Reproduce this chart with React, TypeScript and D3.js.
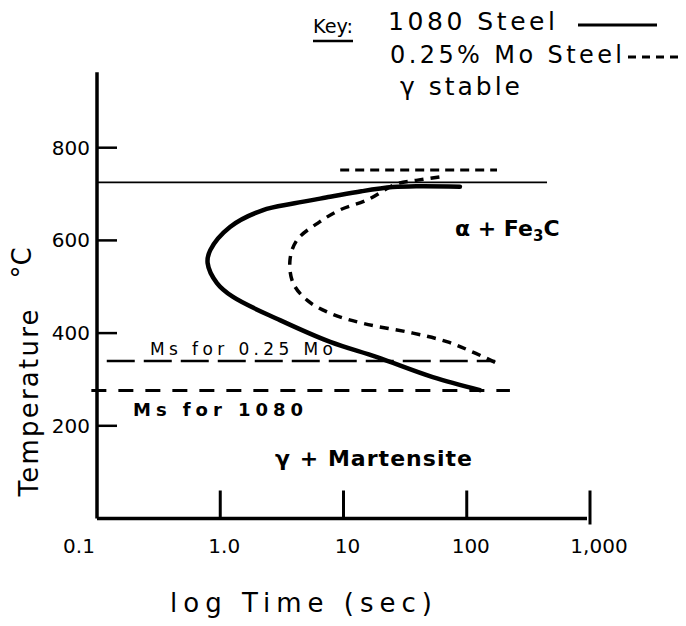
import React from 'react';
import * as d3 from 'd3';

// TTT curves: [time (s), temperature (°C)]
const steel1080: [number, number][] = [
  [88, 716], [40, 717], [25, 715], [14, 706], [7.8, 694], [4, 680], [2.2, 665],
  [1.2, 629], [0.83, 579], [0.79, 551], [0.94, 508], [1.27, 478], [3.05, 428],
  [7.8, 381], [18.7, 348], [53, 305], [128, 277],
];
const steelMo: [number, number][] = [
  [60, 737], [40, 730], [27, 722], [15.5, 687], [9.4, 666], [6.4, 640], [4.2, 601],
  [3.68, 558], [3.9, 508], [5.06, 471], [7.77, 443], [14.4, 421], [36.6, 400],
  [70, 381], [110, 360], [176, 335],
];

const eutectoid = { temp: 725, from: 0.1, to: 448 };
const gammaStable = { temp: 752, from: 9.4, to: 176 };
const msMo = { temp: 340, from: 0.12, to: 170 };
const ms1080 = { temp: 276, from: 0.09, to: 224 };

const xTicks = [0.1, 1, 10, 100, 1000];
const xTickLabels = ['0.1', '1.0', '10', '100', '1,000'];
const yTicks = [800, 600, 400, 200];

const W = 686;
const H = 626;
const font = "'DejaVu Sans', sans-serif";

export default function App() {
  const x = d3.scaleLog().domain([0.1, 1000]).range([97, 590]);
  const y = d3.scaleLinear().domain([0, 800]).range([518.5, 147.7]);

  const line = d3
    .line<[number, number]>()
    .x((d) => x(d[0]))
    .y((d) => y(d[1]))
    .curve(d3.curveCatmullRom.alpha(0.5));

  const hline = (h: { temp: number; from: number; to: number }) => ({
    x1: x(h.from),
    x2: x(h.to),
    y1: y(h.temp),
    y2: y(h.temp),
  });

  const axisBottom = y(0);

  return (
    <svg
      width={W}
      height={H}
      style={{ position: 'absolute', left: 0, top: 0, background: '#fff' }}
      fontFamily={font}
    >
      {/* key */}
      <text x={313} y={33} fontSize={20} textLength={40} lengthAdjust="spacingAndGlyphs">Key:</text>
      <line x1={313} x2={353} y1={41} y2={41} stroke="#000" strokeWidth={2.5} />
      <text x={388} y={30} fontSize={25} textLength={167} lengthAdjust="spacing">1080 Steel</text>
      <line x1={578} x2={657} y1={25} y2={25} stroke="#000" strokeWidth={3} />
      <text x={390} y={63} fontSize={24} textLength={232} lengthAdjust="spacing">0.25% Mo Steel</text>
      <line x1={628} x2={684} y1={57} y2={57} stroke="#000" strokeWidth={3} strokeDasharray="8 6" />
      <text x={400} y={95} fontSize={25} textLength={120} lengthAdjust="spacing">γ stable</text>

      {/* axes */}
      <line x1={97} x2={97} y1={y(963)} y2={axisBottom} stroke="#000" strokeWidth={3.5} />
      <line x1={97} x2={587} y1={axisBottom} y2={axisBottom} stroke="#000" strokeWidth={3.5} />
      {xTicks.map((t, i) => (
        <g key={t}>
          {i > 0 && (
            <line
              x1={x(t)}
              x2={x(t)}
              y1={axisBottom - 28}
              y2={i === xTicks.length - 1 ? axisBottom + 6 : axisBottom}
              stroke="#000"
              strokeWidth={3}
            />
          )}
          <text x={x(t) + (i === 0 ? -18 : i === xTicks.length - 1 ? 9 : 4)} y={553} fontSize={20} textAnchor="middle">
            {xTickLabels[i]}
          </text>
        </g>
      ))}
      {yTicks.map((t) => (
        <g key={t}>
          <line x1={97} x2={117} y1={y(t)} y2={y(t)} stroke="#000" strokeWidth={2.5} />
          <text x={90} y={y(t) + 7} fontSize={20} textAnchor="end">{t}</text>
        </g>
      ))}
      <text
        transform="translate(38,403) rotate(-90)"
        fontSize={26}
        textAnchor="middle"
        textLength={187}
        lengthAdjust="spacing"
      >
        Temperature
      </text>
      <text transform="translate(31,263) rotate(-90)" fontSize={26} textAnchor="middle">°C</text>
      <text x={170} y={612} fontSize={26} textLength={262} lengthAdjust="spacing">log  Time  (sec)</text>

      {/* reference lines */}
      <line {...hline(eutectoid)} stroke="#000" strokeWidth={1.8} />
      <line {...hline(gammaStable)} stroke="#000" strokeWidth={3} strokeDasharray="9 6" />
      <line {...hline(msMo)} stroke="#000" strokeWidth={2.5} strokeDasharray="28 9" />
      <line {...hline(ms1080)} stroke="#000" strokeWidth={3} strokeDasharray="15 12" />

      {/* curves */}
      <path d={line(steel1080) ?? ''} fill="none" stroke="#000" strokeWidth={4.5} strokeLinecap="round" />
      <path d={line(steelMo) ?? ''} fill="none" stroke="#000" strokeWidth={3.5} strokeDasharray="9 7" />

      {/* region and line labels */}
      <text x={150} y={355} fontSize={17} textLength={183} lengthAdjust="spacing">Ms for 0.25 Mo</text>
      <text x={133} y={416} fontSize={18} fontWeight="bold" textLength={170} lengthAdjust="spacing">Ms for 1080</text>
      <text x={455} y={236} fontSize={22} fontWeight="bold">
        α + Fe<tspan fontSize={15} dy={5}>3</tspan><tspan dy={-5}>C</tspan>
      </text>
      <text x={275} y={466} fontSize={22} fontWeight="bold" textLength={197} lengthAdjust="spacing">γ + Martensite</text>
    </svg>
  );
}
